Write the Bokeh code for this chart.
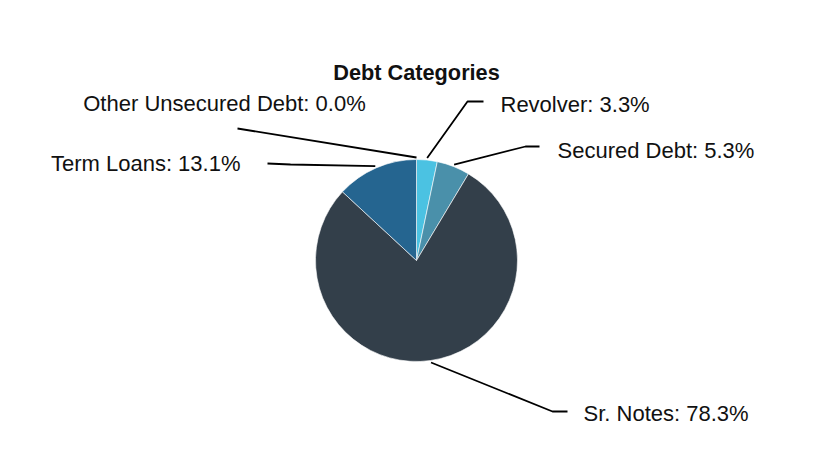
import math
from bokeh.plotting import figure
from bokeh.models import Range1d, ColumnDataSource
from bokeh.core.properties import value
from bokeh.embed import file_html
from bokeh.resources import INLINE

# ---- data ----
categories = ["Revolver", "Secured Debt", "Sr. Notes", "Term Loans", "Other Unsecured Debt"]
shares = [3.3, 5.3, 78.3, 13.1, 0.0]
colors = ["#4BC2E2", "#4A90AA", "#333F4A", "#256590", "#2B4A66"]
title_text = "Debt Categories"

# ---- layout (page pixel coordinates; y is flipped below) ----
W, H = 816, 448
CX, CY, R = 416, 260, 101
FONT = "Liberation Sans"

def fy(y):
    return H - y

p = figure(width=W, height=H, output_backend="svg", toolbar_location=None,
           x_range=Range1d(0, W), y_range=Range1d(0, H),
           min_border=0, outline_line_color=None)
p.axis.visible = False
p.grid.visible = False
p.background_fill_color = "white"
p.border_fill_color = "white"

total = sum(shares)
starts, ends, mids = [], [], []
cum = 0.0
for s in shares:
    a0 = math.pi / 2 - 2 * math.pi * cum / total
    cum += s
    a1 = math.pi / 2 - 2 * math.pi * cum / total
    starts.append(a0)
    ends.append(a1)
    mids.append((a0 + a1) / 2)

idx = [i for i, s in enumerate(shares) if s > 0]
src = ColumnDataSource(dict(
    x=[CX] * len(idx), y=[fy(CY)] * len(idx),
    start=[starts[i] for i in idx], end=[ends[i] for i in idx],
    color=[colors[i] for i in idx]))
p.wedge(x="x", y="y", radius=R, radius_units="screen",
        start_angle="start", end_angle="end", direction="clock",
        fill_color="color", line_color="white", line_width=0.6, source=src)

# leader lines: start on pie edge, elbow, end; label anchor
elbows = {
    "Revolver": ((467, 101), (483, 101), (500, 104, "left")),
    "Secured Debt": ((525, 146), (539, 146), (557, 150, "left")),
    "Sr. Notes": ((552, 411), (567, 411), (583, 413, "left")),
    "Term Loans": ((290, 164), (267, 163), (240, 163, "right")),
    "Other Unsecured Debt": ((237, 128), (237, 128), (224, 103, "center")),
}
rr = R + 2
for i, cat in enumerate(categories):
    sx = CX + rr * math.cos(mids[i])
    sy = CY - rr * math.sin(mids[i])
    (ex, ey), (tx, ty), (lx, ly, align) = elbows[cat]
    p.line([sx, ex, tx], [fy(sy), fy(ey), fy(ty)], line_color="black", line_width=1.8)
    p.text(x=[lx], y=[fy(ly)], text=[f"{cat}: {shares[i]:.1f}%"],
           text_font=value(FONT), text_font_size="16.5pt", text_color="#111111",
           text_align=align, text_baseline="middle")

p.text(x=[CX], y=[fy(72)], text=[title_text], text_font=value(FONT),
       text_font_size="16.3pt", text_font_style="bold", text_color="#111111",
       text_align="center", text_baseline="middle")

open("out.html", "w").write(file_html(p, INLINE))
